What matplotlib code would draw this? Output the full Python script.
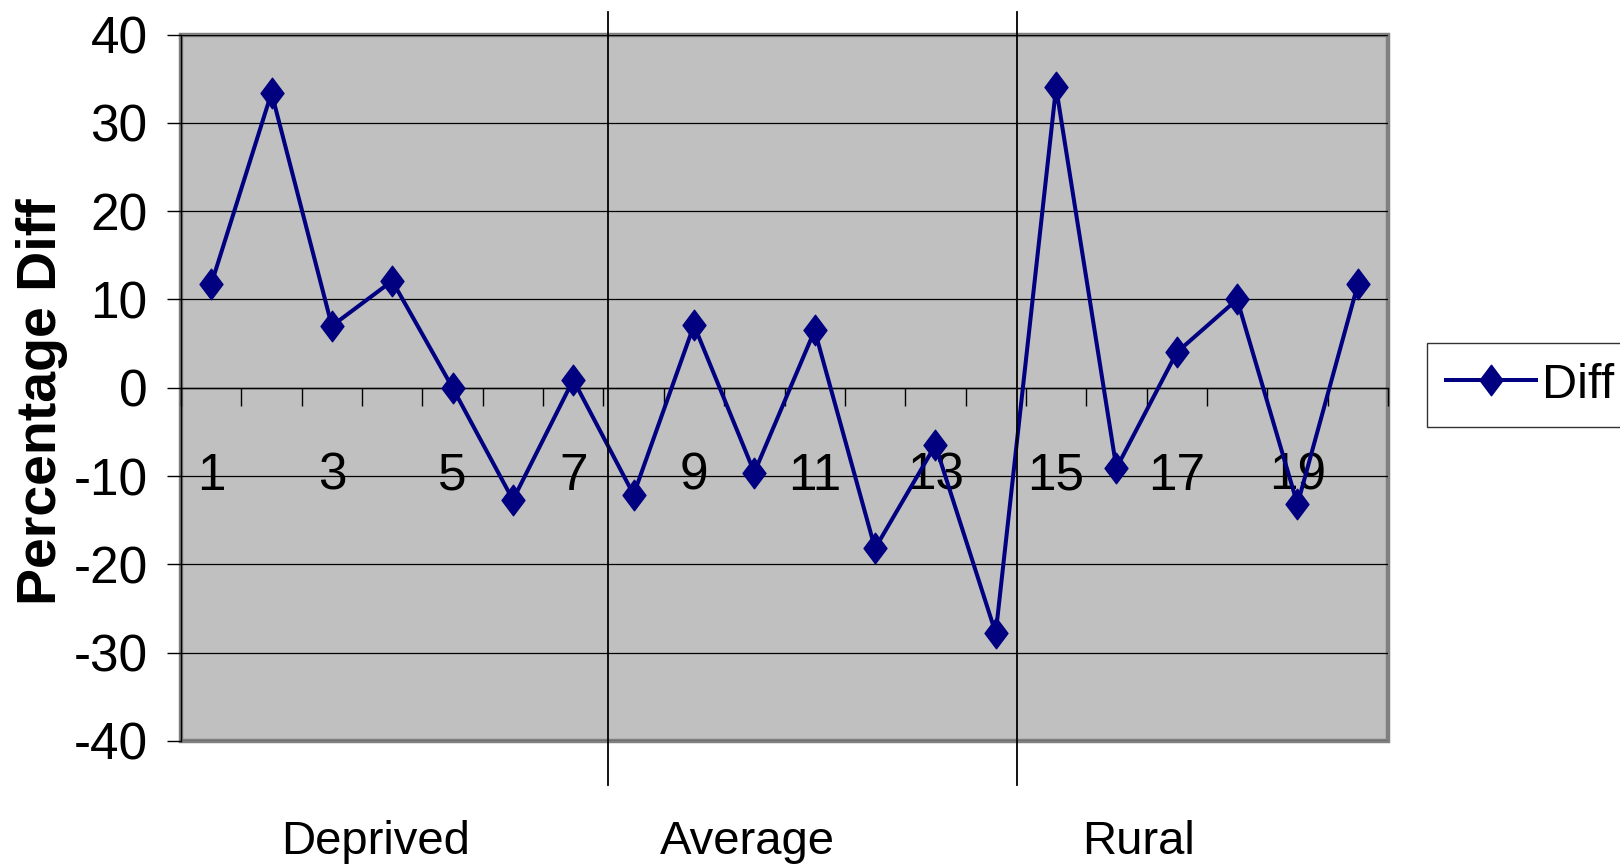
import matplotlib
matplotlib.use("Agg")
import matplotlib.pyplot as plt
from matplotlib.path import Path
from matplotlib.patches import Rectangle
from matplotlib.lines import Line2D

# data
sites = list(range(1, 21))
diff = [11.7, 33.4, 7.0, 12.1, 0.0, -12.7, 0.9, -12.1, 7.1, -9.6,
        6.5, -18.2, -6.5, -27.8, 34.0, -9.1, 4.0, 10.0, -13.2, 11.7]
label_sites = [1, 3, 5, 7, 9, 11, 13, 15, 17, 19]
y_ticks = [40, 30, 20, 10, 0, -10, -20, -30, -40]
groups = ["Deprived", "Average", "Rural"]
group_x = [376, 747, 1139]      # centres in pixels
divider_x = [608, 1017]         # pixels

W, H = 1620, 867
sans = ["Liberation Sans", "DejaVu Sans"]
navy = "#000080"

fig = plt.figure(figsize=(W / 100, H / 100), dpi=100)
ax = fig.add_axes([181 / W, 1 - 741 / H, (1388 - 181) / W, (741 - 34.5) / H])
ax.set_facecolor("#c0c0c0")

# narrow diamond marker
diamond = Path([(0, 1), (0.75, 0), (0, -1), (-0.75, 0), (0, 1)],
               [Path.MOVETO, Path.LINETO, Path.LINETO, Path.LINETO, Path.CLOSEPOLY])

for y in y_ticks:
    ax.axhline(y, color="black", lw=0.9, zorder=1)

ax.plot(sites, diff, color=navy, lw=2.9, marker=diamond, markersize=22,
        markerfacecolor=navy, markeredgecolor=navy, zorder=3, label="Diff")

ax.set_xlim(0.5, 20.5)
ax.set_ylim(-40, 40)

# spines: left black axis, x axis on zero, grey frame for the rest
ax.spines["bottom"].set_position(("data", 0))
ax.spines["bottom"].set_linewidth(1.0)
ax.spines["left"].set_linewidth(1.0)
ax.spines["top"].set_visible(False)
ax.spines["right"].set_visible(False)
ax.add_patch(Rectangle((0, 0), 1, 1, transform=ax.transAxes, fill=False,
                       edgecolor="#808080", lw=3.2, zorder=0.5, clip_on=False))

# x ticks: marks on category borders, labels on odd categories
ax.set_xticks([k + 0.5 for k in range(0, 21)])
ax.set_xticklabels([])
ax.tick_params(axis="x", which="major", direction="out", length=13, width=1.0)
ax.set_xticks(label_sites, minor=True)
ax.set_xticklabels([str(s) for s in label_sites], minor=True)
ax.tick_params(axis="x", which="minor", length=0, pad=46, labelsize=37)
for t in ax.get_xticklabels(minor=True):
    t.set_family(sans)

ax.set_yticks(y_ticks)
ax.set_yticklabels([str(v) for v in y_ticks])
ax.tick_params(axis="y", direction="out", length=10, width=1.0, pad=14, labelsize=37)
for t in ax.get_yticklabels():
    t.set_family(sans)

fig.text(42 / W, 1 - 402 / H, "Percentage Diff", rotation=90, ha="center", va="center",
         fontsize=40, fontweight="bold", family=sans)

# divider lines between groups
for xp in divider_x:
    fig.add_artist(Line2D([xp / W, xp / W], [1 - 12 / H, 1 - 785 / H],
                          color="black", lw=1.3))

for name, xp in zip(groups, group_x):
    fig.text(xp / W, 1 - 842 / H, name, ha="center", va="center",
             fontsize=34, family=sans)

leg = fig.legend(loc="center left", bbox_to_anchor=(1427 / W, 1 - 385 / H),
                 frameon=True, fancybox=False, edgecolor="black",
                 prop={"family": sans, "size": 35},
                 handlelength=1.85, handletextpad=0.12, borderpad=0.4,
                 borderaxespad=0)
leg.get_frame().set_linewidth(1.0)

fig.savefig("out.png", dpi=100)
